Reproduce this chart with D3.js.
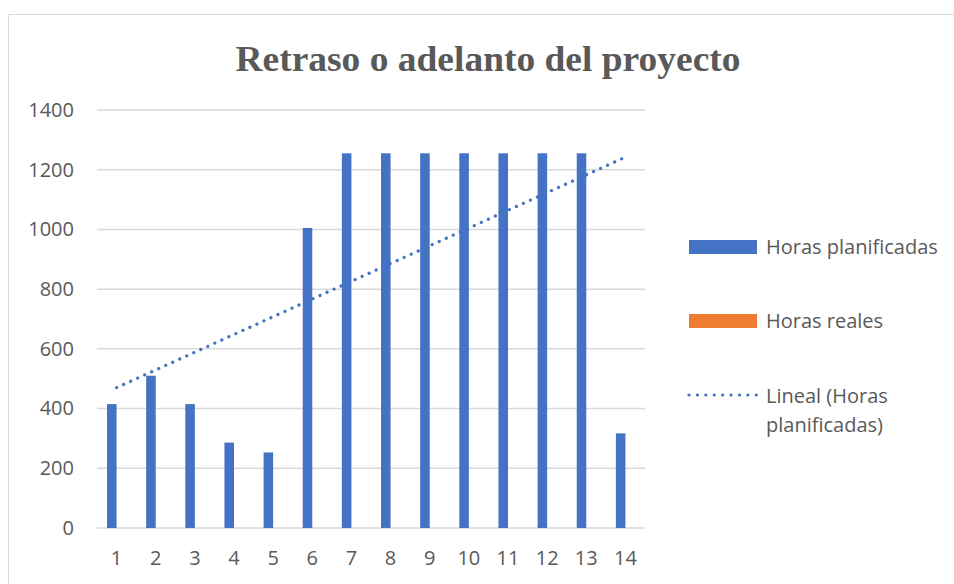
<!DOCTYPE html>
<html>
<head>
<meta charset="utf-8">
<script src="https://cdn.jsdelivr.net/npm/d3@7"></script>
<style>
  body { margin: 0; background: #fff; }
  svg { display: block; }
  .tick text { font-family: "Open Sans", sans-serif; }
</style>
</head>
<body>
<svg id="chart"></svg>
<script>
// datos
var semanas = ["1", "2", "3", "4", "5", "6", "7", "8", "9", "10", "11", "12", "13", "14"];
var horasPlanificadas = [415, 510, 415, 286, 253, 1005, 1255, 1255, 1255, 1255, 1255, 1255, 1255, 317];
var horasReales = [0, 0, 0, 0, 0, 0, 0, 0, 0, 0, 0, 0, 0, 0];
var yTicks = [0, 200, 400, 600, 800, 1000, 1200, 1400];
var series = ["Horas planificadas", "Horas reales"];
var colores = ["#4472C4", "#ED7D31"];

var W = 954, H = 584;
var margin = { top: 110, right: 309, bottom: 56, left: 97 },
  width = W - margin.left - margin.right,
  height = H - margin.top - margin.bottom;

var svg = d3.select("#chart").attr("width", W).attr("height", H);

// marco del grafico
svg.append("rect")
  .attr("x", 8.5).attr("y", 14.5)
  .attr("width", W + 10).attr("height", H + 10)
  .attr("fill", "none").attr("stroke", "#d9d9d9").attr("stroke-width", 1);

svg.append("text")
  .attr("x", 488).attr("y", 71)
  .attr("text-anchor", "middle")
  .attr("textLength", 505)
  .attr("lengthAdjust", "spacingAndGlyphs")
  .style("font-family", "'Liberation Serif', 'Times New Roman', serif")
  .style("font-weight", "bold")
  .style("font-size", "35px")
  .style("fill", "#595959")
  .text("Retraso o adelanto del proyecto");

var g = svg.append("g").attr("transform", "translate(" + margin.left + "," + margin.top + ")");

var x = d3.scaleBand().domain(semanas).range([0, width]).padding(0);
var x1 = d3.scaleBand().domain(series).range([0, x.bandwidth()]).paddingInner(0).paddingOuter(1.05);
var y = d3.scaleLinear().domain([0, 1400]).range([height, 0]);

// lineas de cuadricula
g.selectAll(".grid")
  .data(yTicks)
  .enter().append("line")
  .attr("x1", 0).attr("x2", width)
  .attr("y1", d => y(d)).attr("y2", d => y(d))
  .attr("stroke", "#d9d9d9").attr("stroke-width", 1.5);

var yAxis = g.append("g")
  .call(d3.axisLeft(y).tickValues(yTicks).tickFormat(d3.format("d")).tickSize(0).tickPadding(23));
yAxis.select(".domain").remove();
yAxis.selectAll("text").style("font-size", "20px").style("fill", "#595959");

var xAxis = g.append("g")
  .attr("transform", "translate(0," + height + ")")
  .call(d3.axisBottom(x).tickSize(0).tickPadding(23));
xAxis.select(".domain").remove();
xAxis.selectAll("text").style("font-size", "20px").style("fill", "#595959");

// barras
var filas = semanas.map((s, i) => ({ semana: s, valores: [horasPlanificadas[i], horasReales[i]] }));

var grupos = g.selectAll(".grupo")
  .data(filas)
  .enter().append("g")
  .attr("transform", d => "translate(" + x(d.semana) + ",0)");

grupos.selectAll("rect")
  .data(d => d.valores.map((v, k) => ({ serie: series[k], valor: v, k: k })))
  .enter().append("rect")
  .attr("x", d => x1(d.serie))
  .attr("y", d => y(d.valor))
  .attr("width", x1.bandwidth())
  .attr("height", d => height - y(d.valor))
  .attr("fill", d => colores[d.k]);

// linea de tendencia lineal (minimos cuadrados sobre horas planificadas)
var n = horasPlanificadas.length;
var xs = d3.range(1, n + 1);
var mx = d3.mean(xs), my = d3.mean(horasPlanificadas);
var sxy = d3.sum(xs, (v, i) => (v - mx) * (horasPlanificadas[i] - my));
var sxx = d3.sum(xs, v => (v - mx) * (v - mx));
var pend = sxy / sxx, inter = my - pend * mx;

var tend = [1, n].map(v => ({ s: String(v), val: inter + pend * v }));
g.append("path")
  .datum(tend)
  .attr("d", d3.line().x(d => x(d.s) + x.bandwidth() / 2).y(d => y(d.val)))
  .attr("fill", "none")
  .attr("stroke", "#4472C4")
  .attr("stroke-width", 3.2)
  .attr("stroke-linecap", "round")
  .attr("stroke-dasharray", "0.1 7.6");

// leyenda
var ley = svg.append("g").attr("transform", "translate(689,0)");
var txtStyle = s => s.style("font-family", "'Open Sans', sans-serif").style("font-size", "20px").style("fill", "#595959");

ley.append("rect").attr("x", 0).attr("y", 240).attr("width", 68).attr("height", 14).attr("fill", colores[0]);
ley.append("text").attr("x", 77).attr("y", 254).text("Horas planificadas").call(txtStyle);

ley.append("rect").attr("x", 0).attr("y", 314).attr("width", 68).attr("height", 14).attr("fill", colores[1]);
ley.append("text").attr("x", 77).attr("y", 328).text("Horas reales").call(txtStyle);

ley.append("line").attr("x1", 0).attr("x2", 68).attr("y1", 395).attr("y2", 395)
  .attr("stroke", "#4472C4").attr("stroke-width", 3.2).attr("stroke-linecap", "round")
  .attr("stroke-dasharray", "0.1 8.3");
var t3 = ley.append("text").attr("x", 77).attr("y", 403).call(txtStyle);
t3.append("tspan").attr("x", 77).text("Lineal (Horas");
t3.append("tspan").attr("x", 77).attr("dy", 29).text("planificadas)");
</script>
</body>
</html>
